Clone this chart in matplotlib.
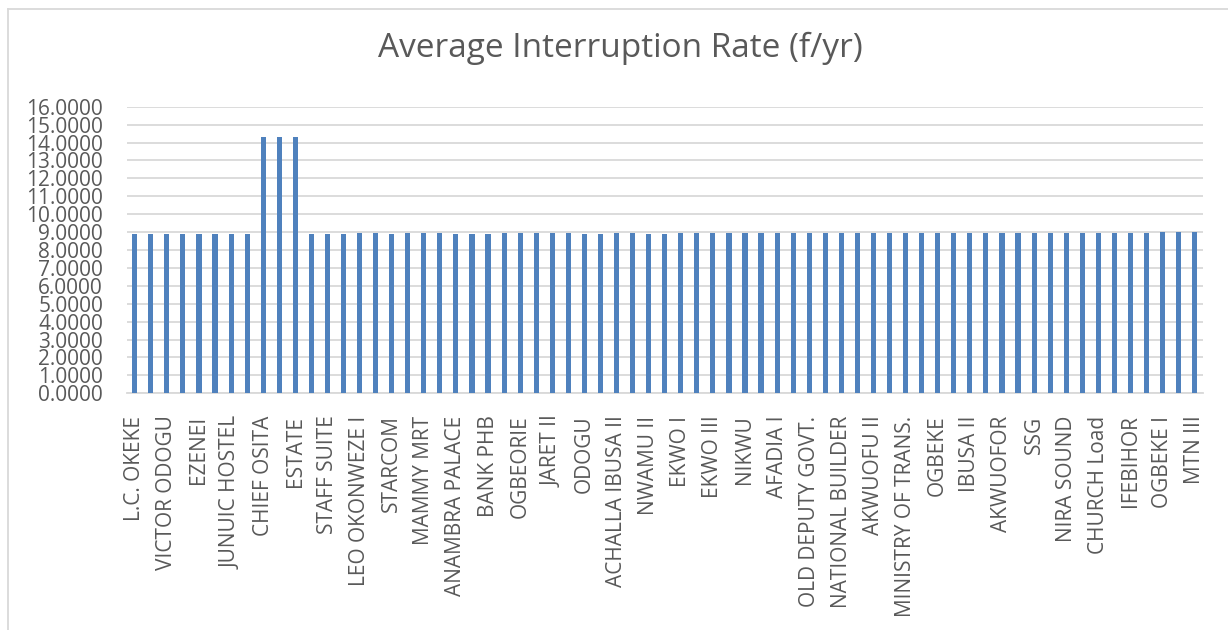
import numpy as np
import matplotlib.pyplot as plt
from matplotlib.lines import Line2D

plt.rcParams['font.family'] = ['Open Sans', 'DejaVu Sans']

# Названия фидеров (подписывается каждый второй столбец)
labels_shown = [
    "L.C. OKEKE", "VICTOR ODOGU", "EZENEI", "JUNUIC HOSTEL", "CHIEF OSITA",
    "ESTATE", "STAFF SUITE", "LEO OKONWEZE I", "STARCOM", "MAMMY MRT",
    "ANAMBRA PALACE", "BANK PHB", "OGBEORIE", "JARET II", "ODOGU",
    "ACHALLA IBUSA II", "NWAMU II", "EKWO I", "EKWO III", "NIKWU",
    "AFADIA I", "OLD DEPUTY GOVT.", "NATIONAL BUILDER", "AKWUOFU II",
    "MINISTRY OF TRANS.", "OGBEKE", "IBUSA II", "AKWUOFOR", "SSG",
    "NIRA SOUND", "CHURCH Load", "IFEBIHOR", "OGBEKE I", "MTN III",
]

# Средняя частота отключений (f/yr), 67 столбцов
rates = [
    8.91, 8.91, 8.91, 8.91, 8.91, 8.92, 8.92, 8.92,
    14.30, 14.30, 14.30,
    8.92, 8.92, 8.92, 8.95, 8.95, 8.92, 8.95, 8.95, 8.95, 8.92, 8.92, 8.92,
    8.95, 8.95, 8.95, 8.95, 8.97, 8.92, 8.92, 8.95, 8.95, 8.92, 8.92, 8.95,
    8.95, 8.95, 8.95, 8.97, 8.97, 8.95, 8.95, 8.95, 8.95, 8.95, 8.97, 8.95,
    8.94, 8.94, 8.94, 8.94, 8.94, 8.95, 8.95, 8.95, 8.95, 8.94, 8.94, 8.95,
    8.95, 8.95, 8.97, 8.97, 8.97, 8.99, 8.99, 8.99,
]

y_ticks = np.arange(0, 17, 1)

x = np.arange(len(rates))
tick_labels = [""] * len(rates)
for i, name in enumerate(labels_shown):
    tick_labels[i * 2] = name

text_color = "#595959"
grid_color = "#d9d9d9"

fig = plt.figure(figsize=(12.28, 6.30), dpi=100)
ax = fig.add_axes([126.7 / 1228, 1 - 393.3 / 630, 1076 / 1228, (393.3 - 106.7) / 630])

ax.bar(x, rates, width=0.32, color="#4f81bd", zorder=3)

ax.set_xlim(-0.5, len(rates) - 0.5)
ax.set_ylim(0, 16)
ax.set_yticks(y_ticks)
ax.set_yticklabels([f"{v:.4f}" for v in y_ticks], fontsize=15, color=text_color)
ax.set_xticks(x)
ax.set_xticklabels(tick_labels, rotation=90, fontsize=15, color=text_color)

ax.yaxis.grid(True, color=grid_color, linewidth=1.3, zorder=0)
ax.tick_params(axis="both", length=0)
ax.tick_params(axis="y", pad=17)
ax.tick_params(axis="x", pad=16)
for side in ["top", "right", "left"]:
    ax.spines[side].set_visible(False)
ax.spines["bottom"].set_color(grid_color)
ax.spines["bottom"].set_linewidth(1.3)

fig.text(620 / 1228, 1 - 48 / 630, "Average Interruption Rate (f/yr)",
         ha="center", va="center", fontsize=24, color=text_color)

# Рамка области диаграммы
fig.add_artist(Line2D([8 / 1228, 1], [1 - 8.5 / 630, 1 - 8.5 / 630],
                      transform=fig.transFigure, color=grid_color, linewidth=1.3))
fig.add_artist(Line2D([8 / 1228, 8 / 1228], [0, 1 - 8.5 / 630],
                      transform=fig.transFigure, color=grid_color, linewidth=1.3))

fig.savefig("out.png", dpi=100)
